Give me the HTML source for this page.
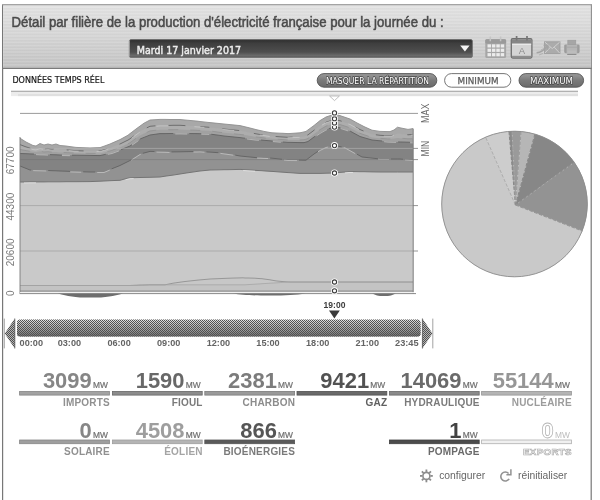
<!DOCTYPE html>
<html lang="fr">
<head>
<meta charset="utf-8">
<title>Détail par filière de la production d'électricité française</title>
<style>
html,body{margin:0;padding:0;background:#fff;}
body{width:600px;height:500px;overflow:hidden;position:relative;font-family:"Liberation Sans",Arial,sans-serif;}
svg{position:absolute;left:0;top:0;display:block;}
svg text{font-family:"Liberation Sans",Arial,sans-serif;}
.dj{font-family:"DejaVu Sans","Liberation Sans",sans-serif;}
.ol{paint-order:stroke;stroke:#474747;stroke-width:1.5px;stroke-linejoin:round;}
</style>
</head>
<body>
<svg width="600" height="500" viewBox="0 0 600 500">
<defs>
<linearGradient id="hg" x1="0" y1="0" x2="0" y2="1"><stop offset="0" stop-color="#e3e3e3"/><stop offset="0.45" stop-color="#d6d6d6"/><stop offset="1" stop-color="#c3c3c3"/></linearGradient>
<pattern id="stripes" width="4" height="3.2" patternUnits="userSpaceOnUse"><rect width="4" height="1.6" fill="#fff" fill-opacity="0.10"/><rect y="1.6" width="4" height="1.6" fill="#000" fill-opacity="0.015"/></pattern>
<linearGradient id="dd" x1="0" y1="0" x2="0" y2="1"><stop offset="0" stop-color="#2c2c2c"/><stop offset="0.2" stop-color="#3e3e3e"/><stop offset="0.7" stop-color="#4e4e4e"/><stop offset="0.9" stop-color="#6a6a6a"/><stop offset="1" stop-color="#5a5a5a"/></linearGradient>
<linearGradient id="bar" x1="0" y1="0" x2="0" y2="1"><stop offset="0" stop-color="#e6e6e6"/><stop offset="0.3" stop-color="#c4c4c4"/><stop offset="0.75" stop-color="#909090"/><stop offset="1" stop-color="#6c6c6c"/></linearGradient>
<pattern id="chk" width="2" height="2" patternUnits="userSpaceOnUse"><rect width="1" height="1" fill="#505050"/><rect x="1" y="1" width="1" height="1" fill="#505050"/></pattern>
<linearGradient id="pill" x1="0" y1="0" x2="0" y2="1"><stop offset="0" stop-color="#9a9a9a"/><stop offset="0.5" stop-color="#7a7a7a"/><stop offset="1" stop-color="#6a6a6a"/></linearGradient>
<linearGradient id="lb" x1="0" y1="0" x2="0" y2="1"><stop offset="0" stop-color="#d2d2d2"/><stop offset="1" stop-color="#f6f6f6"/></linearGradient>
</defs>

<!-- widget frame -->
<rect x="2.6" y="4.6" width="588.6" height="500" fill="#fff" stroke="#777" stroke-width="1.2"/>
<!-- header -->
<rect x="3.2" y="5.2" width="587.4" height="63" fill="url(#hg)"/>
<rect x="3.2" y="5.2" width="587.4" height="63" fill="url(#stripes)"/>
<line x1="2" y1="4.6" x2="591.8" y2="4.6" stroke="#a4a4a4" stroke-width="1.2"/>
<line x1="2" y1="68.4" x2="591.8" y2="68.4" stroke="#7a7a7a" stroke-width="1.2"/>
<g font-size="14" style="filter:drop-shadow(0.8px 0.9px 0 #fff)">
<text x="11.6" y="26.8" fill="#4a4a4a" stroke="#4a4a4a" stroke-width="0.6" textLength="432" lengthAdjust="spacingAndGlyphs">Détail par filière de la production d'électricité française pour la journée du :</text>
</g>
<!-- date selector -->
<rect x="129.4" y="39.6" width="343" height="17.8" rx="1.5" fill="url(#dd)" stroke="#6a6a6a" stroke-width="0.8"/>
<line x1="129.4" y1="40.5" x2="129.4" y2="56.6" stroke="#a0a0a0" stroke-width="0.9"/>
<text class="dj" x="136.7" y="53.5" font-size="10.4" fill="#ececec" stroke="#ececec" stroke-width="0.5" textLength="104.4" lengthAdjust="spacingAndGlyphs">Mardi 17 janvier 2017</text>
<path d="M460.2,45.4 L469.6,45.4 L464.9,51.6 Z" fill="#f4f4f4"/>
<!-- header icons -->
<g id="ico-cal1">
<rect x="485.3" y="39.2" width="20.8" height="18.8" rx="1.6" fill="#a6a6a6"/>
<rect x="485.3" y="39.2" width="20.8" height="4.2" rx="1.2" fill="#9a9a9a"/>
<g fill="#ececec"><rect x="487.5" y="44.3" width="3.5" height="3.2"/><rect x="491.9" y="44.3" width="3.5" height="3.2"/><rect x="496.3" y="44.3" width="3.5" height="3.2"/><rect x="500.7" y="44.3" width="3.5" height="3.2"/><rect x="487.5" y="48.7" width="3.5" height="3.2"/><rect x="491.9" y="48.7" width="3.5" height="3.2"/><rect x="496.3" y="48.7" width="3.5" height="3.2"/><rect x="500.7" y="48.7" width="3.5" height="3.2"/><rect x="487.5" y="53.1" width="3.5" height="3.2"/><rect x="491.9" y="53.1" width="3.5" height="3.2"/><rect x="496.3" y="53.1" width="3.5" height="3.2"/><rect x="500.7" y="53.1" width="3.5" height="3.2"/></g>
<path d="M490.3,36.4V41.2M500.6,36.4V41.2" stroke="#c4c4c4" stroke-width="1.5"/>
</g>
<g id="ico-cal2">
<rect x="511.3" y="38.6" width="20.6" height="19.4" rx="1.4" fill="#d4d4d4" stroke="#707070" stroke-width="1.3"/>
<rect x="511.9" y="39.2" width="19.4" height="4.4" fill="#868686"/>
<rect x="512" y="43.8" width="19.2" height="0.9" fill="#f2f2f2"/>
<rect x="511.9" y="55.8" width="19.4" height="1.8" fill="#8e8e8e"/>
<path d="M516.6,36V40.6M527,36V40.6" stroke="#767676" stroke-width="1.7"/>
<text x="521.8" y="53.6" text-anchor="middle" font-size="9.5" fill="#8c8c8c">A</text>
</g>
<g id="ico-mail" fill="none">
<rect x="544.6" y="41.8" width="15.4" height="11.6" fill="#ababab" stroke="#9c9c9c" stroke-width="0.8"/>
<path d="M545,42.2L552.3,48.6L559.6,42.2M545,53L550.4,47.2M559.6,53L554.2,47.2" stroke="#cfcfcf" stroke-width="1"/>
<path d="M536.6,52.8C540.4,52.6 543.6,50.8 547.4,46" stroke="#a4a4a4" stroke-width="1.5"/>
<path d="M543.6,45.4L547.8,45.4L547.6,49.8" stroke="#a4a4a4" stroke-width="1.3"/>
<path d="M539,55L543,53.4M541,50L544,48.4" stroke="#b2b2b2" stroke-width="1"/>
</g>
<g id="ico-print">
<rect x="564.2" y="44.4" width="15.4" height="8.8" rx="1.4" fill="#9c9c9c"/>
<rect x="566.6" y="45" width="10.6" height="8" fill="#b6b6b6"/>
<rect x="567.8" y="40.2" width="8" height="4.4" fill="#a6a6a6" stroke="#9a9a9a" stroke-width="0.6"/>
<rect x="567.4" y="50.6" width="8.8" height="3.6" fill="#bcbcbc"/>
<line x1="567.2" y1="54.4" x2="576.4" y2="54.4" stroke="#7e7e7e" stroke-width="0.9"/>
<line x1="566.8" y1="47.2" x2="577" y2="47.2" stroke="#a2a2a2" stroke-width="0.8"/>
</g>

<!-- toolbar -->
<text class="dj" x="12.4" y="83.2" font-size="8.6" fill="#161616" stroke="#161616" stroke-width="0.2" textLength="92" lengthAdjust="spacingAndGlyphs">DONNÉES TEMPS RÉEL</text>
<rect x="317.2" y="73.6" width="119.6" height="13.6" rx="6.8" fill="url(#pill)" stroke="#555" stroke-width="0.9"/>
<text class="dj ol" x="326" y="83.6" font-size="8.6" fill="#fff" textLength="103" lengthAdjust="spacingAndGlyphs">MASQUER LA RÉPARTITION</text>
<rect x="444.6" y="73.6" width="66.2" height="13.6" rx="6.8" fill="#fff" stroke="#666" stroke-width="0.9"/>
<text class="dj" x="457.6" y="83.6" font-size="8.6" fill="#5c5c5c" stroke="#5c5c5c" stroke-width="0.25" textLength="41" lengthAdjust="spacingAndGlyphs">MINIMUM</text>
<rect x="519" y="73.6" width="64.6" height="13.6" rx="6.8" fill="url(#pill)" stroke="#555" stroke-width="0.9"/>
<text class="dj ol" x="530" y="83.6" font-size="8.6" fill="#fff" textLength="43" lengthAdjust="spacingAndGlyphs">MAXIMUM</text>
<rect x="11" y="91.6" width="567" height="4.5" fill="#ececec"/>
<rect x="18" y="94" width="560" height="2.1" fill="#e0e0e0"/>
<line x1="11" y1="91.3" x2="578" y2="91.3" stroke="#9a9a9a" stroke-width="1.1"/>
<path d="M329.6,96 L339.4,96 L334.5,100.6 Z" fill="#fff" stroke="#b0b0b0" stroke-width="0.8"/>

<!-- chart -->
<g id="grid"><line x1="20" y1="113.4" x2="418" y2="113.4" stroke="#808080" stroke-width="0.8"/><line x1="20" y1="148.4" x2="418" y2="148.4" stroke="#7c7c7c" stroke-width="0.8"/><line x1="20" y1="159.6" x2="418" y2="159.6" stroke="#7a7a7a" stroke-width="0.8"/><line x1="20" y1="205.6" x2="418" y2="205.6" stroke="#7a7a7a" stroke-width="0.8"/><line x1="20" y1="251.0" x2="418" y2="251.0" stroke="#7a7a7a" stroke-width="0.8"/></g>
<g id="areas"><path d="M20.0,138.2 L26.0,142.0 L30.0,144.0 L33.0,145.5 L36.0,146.0 L40.0,143.5 L44.0,145.0 L48.0,144.0 L50.0,144.5 L52.0,145.0 L56.0,144.0 L60.0,145.5 L66.0,146.0 L70.0,146.6 L76.0,147.4 L90.0,148.0 L100.0,147.6 L104.0,146.2 L110.0,144.0 L112.0,143.1 L120.0,139.6 L126.0,136.3 L128.0,135.2 L130.0,133.6 L136.0,129.0 L140.0,126.1 L144.0,123.2 L150.0,120.0 L160.0,119.4 L165.0,119.4 L170.0,119.5 L173.0,119.5 L180.0,119.5 L185.0,120.0 L196.0,121.0 L197.0,121.1 L200.0,121.5 L208.0,122.4 L210.0,122.6 L220.0,123.6 L224.0,124.0 L227.0,124.3 L232.0,124.8 L240.0,125.6 L243.0,126.3 L245.0,126.8 L248.0,127.5 L255.0,129.3 L256.0,129.6 L260.0,130.5 L262.0,130.9 L264.0,131.4 L270.0,132.5 L272.0,132.8 L276.0,133.0 L280.0,133.2 L283.0,133.3 L288.0,133.6 L290.0,133.5 L300.0,132.8 L304.0,131.9 L306.0,131.4 L308.0,129.9 L314.0,125.5 L320.0,120.6 L326.0,117.0 L334.0,114.3 L340.0,115.6 L345.0,117.3 L350.0,119.0 L355.0,121.8 L356.0,122.4 L360.0,124.5 L362.0,125.5 L364.0,126.6 L372.0,130.2 L380.0,131.4 L388.0,131.6 L390.0,131.6 L394.0,130.0 L397.5,127.2 L400.0,127.8 L401.0,128.0 L408.0,129.4 L413.0,128.6 L413.0,292.2 L408.0,292.2 L401.0,292.2 L400.0,292.2 L397.5,292.2 L394.0,292.2 L390.0,292.2 L388.0,292.2 L380.0,292.2 L372.0,292.2 L364.0,292.2 L362.0,292.2 L360.0,292.2 L356.0,292.2 L355.0,292.2 L350.0,292.2 L345.0,292.2 L340.0,292.2 L334.0,292.2 L326.0,292.2 L320.0,292.2 L314.0,292.2 L308.0,292.2 L306.0,292.2 L304.0,292.2 L300.0,292.2 L290.0,292.2 L288.0,292.2 L283.0,292.2 L280.0,292.2 L276.0,292.2 L272.0,292.2 L270.0,292.2 L264.0,292.2 L262.0,292.2 L260.0,292.2 L256.0,292.2 L255.0,292.2 L248.0,292.2 L245.0,292.2 L243.0,292.2 L240.0,292.2 L232.0,292.2 L227.0,292.2 L224.0,292.2 L220.0,292.2 L210.0,292.2 L208.0,292.2 L200.0,292.2 L197.0,292.2 L196.0,292.2 L185.0,292.2 L180.0,292.2 L173.0,292.2 L170.0,292.2 L165.0,292.2 L160.0,292.2 L150.0,292.2 L144.0,292.2 L140.0,292.2 L136.0,292.2 L130.0,292.2 L128.0,292.2 L126.0,292.2 L120.0,292.2 L112.0,292.2 L110.0,292.2 L104.0,292.2 L100.0,292.2 L90.0,292.2 L76.0,292.2 L70.0,292.2 L66.0,292.2 L60.0,292.2 L56.0,292.2 L52.0,292.2 L50.0,292.2 L48.0,292.2 L44.0,292.2 L40.0,292.2 L36.0,292.2 L33.0,292.2 L30.0,292.2 L26.0,292.2 L20.0,292.2Z" fill="#a8a8a8" />
<path d="M20.0,144.6 L26.0,146.9 L30.0,148.1 L33.0,149.1 L36.0,149.4 L40.0,148.0 L44.0,148.9 L48.0,148.4 L50.0,148.8 L52.0,149.1 L56.0,148.6 L60.0,149.5 L66.0,149.8 L70.0,150.2 L76.0,150.7 L90.0,151.1 L100.0,151.0 L104.0,149.8 L110.0,148.0 L112.0,147.3 L120.0,144.0 L126.0,141.0 L128.0,140.1 L130.0,138.8 L136.0,134.4 L140.0,131.5 L144.0,129.2 L150.0,126.3 L160.0,125.4 L165.0,125.4 L170.0,125.4 L173.0,125.3 L180.0,125.3 L185.0,125.6 L196.0,126.3 L197.0,126.4 L200.0,126.6 L208.0,127.2 L210.0,127.4 L220.0,128.6 L224.0,129.0 L227.0,129.3 L232.0,129.8 L240.0,130.6 L243.0,131.2 L245.0,131.6 L248.0,132.2 L255.0,133.6 L256.0,133.8 L260.0,134.5 L262.0,134.8 L264.0,135.1 L270.0,136.0 L272.0,136.2 L276.0,136.5 L280.0,136.8 L283.0,137.0 L288.0,137.3 L290.0,137.2 L300.0,136.9 L304.0,136.4 L306.0,135.9 L308.0,134.8 L314.0,130.3 L320.0,125.8 L326.0,122.2 L334.0,119.7 L340.0,120.7 L345.0,122.4 L350.0,124.0 L355.0,126.8 L356.0,127.4 L360.0,129.5 L362.0,130.4 L364.0,131.2 L372.0,134.3 L380.0,135.3 L388.0,135.8 L390.0,135.8 L394.0,135.0 L397.5,133.4 L400.0,133.7 L401.0,133.9 L408.0,134.8 L413.0,134.4 L413.0,292.2 L408.0,292.2 L401.0,292.2 L400.0,292.2 L397.5,292.2 L394.0,292.2 L390.0,292.2 L388.0,292.2 L380.0,292.2 L372.0,292.2 L364.0,292.2 L362.0,292.2 L360.0,292.2 L356.0,292.2 L355.0,292.2 L350.0,292.2 L345.0,292.2 L340.0,292.2 L334.0,292.2 L326.0,292.2 L320.0,292.2 L314.0,292.2 L308.0,292.2 L306.0,292.2 L304.0,292.2 L300.0,292.2 L290.0,292.2 L288.0,292.2 L283.0,292.2 L280.0,292.2 L276.0,292.2 L272.0,292.2 L270.0,292.2 L264.0,292.2 L262.0,292.2 L260.0,292.2 L256.0,292.2 L255.0,292.2 L248.0,292.2 L245.0,292.2 L243.0,292.2 L240.0,292.2 L232.0,292.2 L227.0,292.2 L224.0,292.2 L220.0,292.2 L210.0,292.2 L208.0,292.2 L200.0,292.2 L197.0,292.2 L196.0,292.2 L185.0,292.2 L180.0,292.2 L173.0,292.2 L170.0,292.2 L165.0,292.2 L160.0,292.2 L150.0,292.2 L144.0,292.2 L140.0,292.2 L136.0,292.2 L130.0,292.2 L128.0,292.2 L126.0,292.2 L120.0,292.2 L112.0,292.2 L110.0,292.2 L104.0,292.2 L100.0,292.2 L90.0,292.2 L76.0,292.2 L70.0,292.2 L66.0,292.2 L60.0,292.2 L56.0,292.2 L52.0,292.2 L50.0,292.2 L48.0,292.2 L44.0,292.2 L40.0,292.2 L36.0,292.2 L33.0,292.2 L30.0,292.2 L26.0,292.2 L20.0,292.2Z" fill="#adadad" />
<path d="M20.0,149.4 L26.0,150.6 L30.0,151.2 L33.0,151.7 L36.0,151.9 L40.0,151.3 L44.0,151.9 L48.0,151.7 L50.0,151.9 L52.0,152.1 L56.0,151.9 L60.0,152.4 L66.0,152.6 L70.0,152.8 L76.0,153.1 L90.0,153.4 L100.0,153.4 L104.0,152.4 L110.0,150.9 L112.0,150.3 L120.0,147.2 L126.0,144.5 L128.0,143.7 L130.0,142.7 L136.0,138.3 L140.0,135.5 L144.0,133.6 L150.0,130.9 L160.0,129.8 L165.0,129.7 L170.0,129.7 L173.0,129.7 L180.0,129.6 L185.0,129.8 L196.0,130.2 L197.0,130.3 L200.0,130.4 L208.0,130.7 L210.0,131.0 L220.0,132.3 L224.0,132.8 L227.0,133.1 L232.0,133.6 L240.0,134.4 L243.0,134.8 L245.0,135.1 L248.0,135.6 L255.0,136.7 L256.0,136.9 L260.0,137.4 L262.0,137.6 L264.0,137.9 L270.0,138.6 L272.0,138.8 L276.0,139.1 L280.0,139.4 L283.0,139.6 L288.0,140.0 L290.0,140.0 L300.0,139.9 L304.0,139.7 L306.0,139.2 L308.0,138.4 L314.0,133.9 L320.0,129.7 L326.0,126.1 L334.0,123.6 L340.0,124.5 L345.0,126.1 L350.0,127.8 L355.0,130.5 L356.0,131.1 L360.0,133.3 L362.0,134.0 L364.0,134.7 L372.0,137.4 L380.0,138.3 L388.0,138.9 L390.0,138.9 L394.0,138.6 L397.5,137.9 L400.0,138.2 L401.0,138.2 L408.0,138.8 L413.0,138.7 L413.0,292.2 L408.0,292.2 L401.0,292.2 L400.0,292.2 L397.5,292.2 L394.0,292.2 L390.0,292.2 L388.0,292.2 L380.0,292.2 L372.0,292.2 L364.0,292.2 L362.0,292.2 L360.0,292.2 L356.0,292.2 L355.0,292.2 L350.0,292.2 L345.0,292.2 L340.0,292.2 L334.0,292.2 L326.0,292.2 L320.0,292.2 L314.0,292.2 L308.0,292.2 L306.0,292.2 L304.0,292.2 L300.0,292.2 L290.0,292.2 L288.0,292.2 L283.0,292.2 L280.0,292.2 L276.0,292.2 L272.0,292.2 L270.0,292.2 L264.0,292.2 L262.0,292.2 L260.0,292.2 L256.0,292.2 L255.0,292.2 L248.0,292.2 L245.0,292.2 L243.0,292.2 L240.0,292.2 L232.0,292.2 L227.0,292.2 L224.0,292.2 L220.0,292.2 L210.0,292.2 L208.0,292.2 L200.0,292.2 L197.0,292.2 L196.0,292.2 L185.0,292.2 L180.0,292.2 L173.0,292.2 L170.0,292.2 L165.0,292.2 L160.0,292.2 L150.0,292.2 L144.0,292.2 L140.0,292.2 L136.0,292.2 L130.0,292.2 L128.0,292.2 L126.0,292.2 L120.0,292.2 L112.0,292.2 L110.0,292.2 L104.0,292.2 L100.0,292.2 L90.0,292.2 L76.0,292.2 L70.0,292.2 L66.0,292.2 L60.0,292.2 L56.0,292.2 L52.0,292.2 L50.0,292.2 L48.0,292.2 L44.0,292.2 L40.0,292.2 L36.0,292.2 L33.0,292.2 L30.0,292.2 L26.0,292.2 L20.0,292.2Z" fill="#a1a1a1" />
<path d="M20.0,153.5 L26.0,153.7 L30.0,153.9 L33.0,154.0 L36.0,154.1 L40.0,154.2 L44.0,154.4 L48.0,154.6 L50.0,154.6 L52.0,154.7 L56.0,154.8 L60.0,155.0 L66.0,155.1 L70.0,155.2 L76.0,155.2 L90.0,155.4 L100.0,155.6 L104.0,154.7 L110.0,153.4 L112.0,153.0 L120.0,150.0 L126.0,147.6 L128.0,146.8 L130.0,146.0 L136.0,141.8 L140.0,139.0 L144.0,137.4 L150.0,135.0 L160.0,133.6 L165.0,133.6 L170.0,133.5 L173.0,133.5 L180.0,133.4 L185.0,133.5 L196.0,133.6 L197.0,133.6 L200.0,133.7 L208.0,133.8 L210.0,134.1 L220.0,135.4 L224.0,136.0 L227.0,136.3 L232.0,136.8 L240.0,137.6 L243.0,138.0 L245.0,138.2 L248.0,138.6 L255.0,139.5 L256.0,139.6 L260.0,139.9 L262.0,140.1 L264.0,140.3 L270.0,140.8 L272.0,141.0 L276.0,141.3 L280.0,141.7 L283.0,142.0 L288.0,142.4 L290.0,142.4 L300.0,142.6 L304.0,142.6 L306.0,142.1 L308.0,141.5 L314.0,137.0 L320.0,133.0 L326.0,129.5 L334.0,127.1 L340.0,127.8 L345.0,129.4 L350.0,131.0 L355.0,133.8 L356.0,134.3 L360.0,136.5 L362.0,137.1 L364.0,137.7 L372.0,140.0 L380.0,140.8 L388.0,141.6 L390.0,141.7 L394.0,141.8 L397.5,141.9 L400.0,142.0 L401.0,142.0 L408.0,142.2 L413.0,142.4 L413.0,292.2 L408.0,292.2 L401.0,292.2 L400.0,292.2 L397.5,292.2 L394.0,292.2 L390.0,292.2 L388.0,292.2 L380.0,292.2 L372.0,292.2 L364.0,292.2 L362.0,292.2 L360.0,292.2 L356.0,292.2 L355.0,292.2 L350.0,292.2 L345.0,292.2 L340.0,292.2 L334.0,292.2 L326.0,292.2 L320.0,292.2 L314.0,292.2 L308.0,292.2 L306.0,292.2 L304.0,292.2 L300.0,292.2 L290.0,292.2 L288.0,292.2 L283.0,292.2 L280.0,292.2 L276.0,292.2 L272.0,292.2 L270.0,292.2 L264.0,292.2 L262.0,292.2 L260.0,292.2 L256.0,292.2 L255.0,292.2 L248.0,292.2 L245.0,292.2 L243.0,292.2 L240.0,292.2 L232.0,292.2 L227.0,292.2 L224.0,292.2 L220.0,292.2 L210.0,292.2 L208.0,292.2 L200.0,292.2 L197.0,292.2 L196.0,292.2 L185.0,292.2 L180.0,292.2 L173.0,292.2 L170.0,292.2 L165.0,292.2 L160.0,292.2 L150.0,292.2 L144.0,292.2 L140.0,292.2 L136.0,292.2 L130.0,292.2 L128.0,292.2 L126.0,292.2 L120.0,292.2 L112.0,292.2 L110.0,292.2 L104.0,292.2 L100.0,292.2 L90.0,292.2 L76.0,292.2 L70.0,292.2 L66.0,292.2 L60.0,292.2 L56.0,292.2 L52.0,292.2 L50.0,292.2 L48.0,292.2 L44.0,292.2 L40.0,292.2 L36.0,292.2 L33.0,292.2 L30.0,292.2 L26.0,292.2 L20.0,292.2Z" fill="#838383" />
<path d="M20.0,166.0 L26.0,168.4 L30.0,170.0 L33.0,170.1 L36.0,170.2 L40.0,170.3 L44.0,170.4 L48.0,170.5 L50.0,170.6 L52.0,170.7 L56.0,170.8 L60.0,171.0 L66.0,171.2 L70.0,171.4 L76.0,171.6 L90.0,172.0 L100.0,172.0 L104.0,172.0 L110.0,169.5 L112.0,168.7 L120.0,165.5 L126.0,162.5 L128.0,161.5 L130.0,160.5 L136.0,156.6 L140.0,154.0 L144.0,153.0 L150.0,151.4 L160.0,151.7 L165.0,151.8 L170.0,152.0 L173.0,151.9 L180.0,151.8 L185.0,151.7 L196.0,151.5 L197.0,151.5 L200.0,151.4 L208.0,152.0 L210.0,152.1 L220.0,152.8 L224.0,153.4 L227.0,153.8 L232.0,154.5 L240.0,156.0 L243.0,156.3 L245.0,156.5 L248.0,156.8 L255.0,157.5 L256.0,157.6 L260.0,157.8 L262.0,157.8 L264.0,157.9 L270.0,158.1 L272.0,158.2 L276.0,158.6 L280.0,159.1 L283.0,159.4 L288.0,160.0 L290.0,160.0 L300.0,160.1 L304.0,160.2 L306.0,160.2 L308.0,158.6 L314.0,154.0 L320.0,150.0 L326.0,147.0 L334.0,145.6 L340.0,146.6 L345.0,147.4 L350.0,150.2 L355.0,153.0 L356.0,153.6 L360.0,155.9 L362.0,157.0 L364.0,157.2 L372.0,158.1 L380.0,159.0 L388.0,159.0 L390.0,159.0 L394.0,159.0 L397.5,159.0 L400.0,159.0 L401.0,159.1 L408.0,159.6 L413.0,160.0 L413.0,292.2 L408.0,292.2 L401.0,292.2 L400.0,292.2 L397.5,292.2 L394.0,292.2 L390.0,292.2 L388.0,292.2 L380.0,292.2 L372.0,292.2 L364.0,292.2 L362.0,292.2 L360.0,292.2 L356.0,292.2 L355.0,292.2 L350.0,292.2 L345.0,292.2 L340.0,292.2 L334.0,292.2 L326.0,292.2 L320.0,292.2 L314.0,292.2 L308.0,292.2 L306.0,292.2 L304.0,292.2 L300.0,292.2 L290.0,292.2 L288.0,292.2 L283.0,292.2 L280.0,292.2 L276.0,292.2 L272.0,292.2 L270.0,292.2 L264.0,292.2 L262.0,292.2 L260.0,292.2 L256.0,292.2 L255.0,292.2 L248.0,292.2 L245.0,292.2 L243.0,292.2 L240.0,292.2 L232.0,292.2 L227.0,292.2 L224.0,292.2 L220.0,292.2 L210.0,292.2 L208.0,292.2 L200.0,292.2 L197.0,292.2 L196.0,292.2 L185.0,292.2 L180.0,292.2 L173.0,292.2 L170.0,292.2 L165.0,292.2 L160.0,292.2 L150.0,292.2 L144.0,292.2 L140.0,292.2 L136.0,292.2 L130.0,292.2 L128.0,292.2 L126.0,292.2 L120.0,292.2 L112.0,292.2 L110.0,292.2 L104.0,292.2 L100.0,292.2 L90.0,292.2 L76.0,292.2 L70.0,292.2 L66.0,292.2 L60.0,292.2 L56.0,292.2 L52.0,292.2 L50.0,292.2 L48.0,292.2 L44.0,292.2 L40.0,292.2 L36.0,292.2 L33.0,292.2 L30.0,292.2 L26.0,292.2 L20.0,292.2Z" fill="#929292" />
<path d="M20.0,182.0 L26.0,182.0 L30.0,181.9 L33.0,181.9 L36.0,181.9 L40.0,181.9 L44.0,181.9 L48.0,181.8 L50.0,181.8 L52.0,181.8 L56.0,181.8 L60.0,181.8 L66.0,181.7 L70.0,181.7 L76.0,181.7 L90.0,181.6 L100.0,181.2 L104.0,181.0 L110.0,180.7 L112.0,180.6 L120.0,180.3 L126.0,178.6 L128.0,178.2 L130.0,177.8 L136.0,177.6 L140.0,177.5 L144.0,177.4 L150.0,177.3 L160.0,177.0 L165.0,176.2 L170.0,175.5 L173.0,175.1 L180.0,174.0 L185.0,173.2 L196.0,171.6 L197.0,171.4 L200.0,171.0 L208.0,170.2 L210.0,170.0 L220.0,169.8 L224.0,169.7 L227.0,169.7 L232.0,169.6 L240.0,169.4 L243.0,169.6 L245.0,169.7 L248.0,169.9 L255.0,170.3 L256.0,170.4 L260.0,170.6 L262.0,170.7 L264.0,170.9 L270.0,171.3 L272.0,171.4 L276.0,171.7 L280.0,172.0 L283.0,172.2 L288.0,172.6 L290.0,172.7 L300.0,173.4 L304.0,173.4 L306.0,173.4 L308.0,173.4 L314.0,173.4 L320.0,173.4 L326.0,173.2 L334.0,173.0 L340.0,172.4 L345.0,172.0 L350.0,171.5 L355.0,171.6 L356.0,171.6 L360.0,171.7 L362.0,171.7 L364.0,171.7 L372.0,171.9 L380.0,172.0 L388.0,172.0 L390.0,172.0 L394.0,172.0 L397.5,172.0 L400.0,172.0 L401.0,172.0 L408.0,172.0 L413.0,172.0 L413.0,292.2 L408.0,292.2 L401.0,292.2 L400.0,292.2 L397.5,292.2 L394.0,292.2 L390.0,292.2 L388.0,292.2 L380.0,292.2 L372.0,292.2 L364.0,292.2 L362.0,292.2 L360.0,292.2 L356.0,292.2 L355.0,292.2 L350.0,292.2 L345.0,292.2 L340.0,292.2 L334.0,292.2 L326.0,292.2 L320.0,292.2 L314.0,292.2 L308.0,292.2 L306.0,292.2 L304.0,292.2 L300.0,292.2 L290.0,292.2 L288.0,292.2 L283.0,292.2 L280.0,292.2 L276.0,292.2 L272.0,292.2 L270.0,292.2 L264.0,292.2 L262.0,292.2 L260.0,292.2 L256.0,292.2 L255.0,292.2 L248.0,292.2 L245.0,292.2 L243.0,292.2 L240.0,292.2 L232.0,292.2 L227.0,292.2 L224.0,292.2 L220.0,292.2 L210.0,292.2 L208.0,292.2 L200.0,292.2 L197.0,292.2 L196.0,292.2 L185.0,292.2 L180.0,292.2 L173.0,292.2 L170.0,292.2 L165.0,292.2 L160.0,292.2 L150.0,292.2 L144.0,292.2 L140.0,292.2 L136.0,292.2 L130.0,292.2 L128.0,292.2 L126.0,292.2 L120.0,292.2 L112.0,292.2 L110.0,292.2 L104.0,292.2 L100.0,292.2 L90.0,292.2 L76.0,292.2 L70.0,292.2 L66.0,292.2 L60.0,292.2 L56.0,292.2 L52.0,292.2 L50.0,292.2 L48.0,292.2 L44.0,292.2 L40.0,292.2 L36.0,292.2 L33.0,292.2 L30.0,292.2 L26.0,292.2 L20.0,292.2Z" fill="#c9c9c9" />
<path d="M20.0,285.5 L26.0,285.5 L30.0,285.5 L33.0,285.5 L36.0,285.5 L40.0,285.5 L44.0,285.5 L48.0,285.5 L50.0,285.5 L52.0,285.5 L56.0,285.5 L60.0,285.5 L66.0,285.5 L70.0,285.5 L76.0,285.5 L90.0,285.5 L100.0,285.5 L104.0,285.5 L110.0,285.5 L112.0,285.5 L120.0,285.5 L126.0,285.5 L128.0,285.5 L130.0,285.5 L136.0,285.3 L140.0,285.1 L144.0,285.0 L150.0,284.8 L160.0,284.8 L165.0,284.8 L170.0,283.8 L173.0,283.2 L180.0,282.2 L185.0,281.5 L196.0,280.3 L197.0,280.2 L200.0,279.9 L208.0,279.2 L210.0,279.0 L220.0,278.6 L224.0,278.4 L227.0,278.3 L232.0,278.1 L240.0,277.9 L243.0,277.8 L245.0,278.0 L248.0,278.0 L255.0,278.2 L256.0,278.3 L260.0,278.6 L262.0,278.7 L264.0,279.0 L270.0,279.8 L272.0,280.2 L276.0,280.9 L280.0,281.3 L283.0,281.6 L288.0,281.9 L290.0,282.0 L300.0,282.0 L304.0,282.0 L306.0,282.0 L308.0,282.0 L314.0,282.0 L320.0,282.0 L326.0,282.0 L334.0,282.0 L340.0,282.0 L345.0,282.0 L350.0,282.0 L355.0,282.0 L356.0,282.0 L360.0,282.0 L362.0,282.0 L364.0,282.0 L372.0,282.0 L380.0,282.0 L388.0,282.0 L390.0,282.0 L394.0,282.0 L397.5,282.0 L400.0,282.0 L401.0,282.0 L408.0,282.0 L413.0,282.0 L413.0,292.2 L408.0,292.2 L401.0,292.2 L400.0,292.2 L397.5,292.2 L394.0,292.2 L390.0,292.2 L388.0,292.2 L380.0,292.2 L372.0,292.2 L364.0,292.2 L362.0,292.2 L360.0,292.2 L356.0,292.2 L355.0,292.2 L350.0,292.2 L345.0,292.2 L340.0,292.2 L334.0,292.2 L326.0,292.2 L320.0,292.2 L314.0,292.2 L308.0,292.2 L306.0,292.2 L304.0,292.2 L300.0,292.2 L290.0,292.2 L288.0,292.2 L283.0,292.2 L280.0,292.2 L276.0,292.2 L272.0,292.2 L270.0,292.2 L264.0,292.2 L262.0,292.2 L260.0,292.2 L256.0,292.2 L255.0,292.2 L248.0,292.2 L245.0,292.2 L243.0,292.2 L240.0,292.2 L232.0,292.2 L227.0,292.2 L224.0,292.2 L220.0,292.2 L210.0,292.2 L208.0,292.2 L200.0,292.2 L197.0,292.2 L196.0,292.2 L185.0,292.2 L180.0,292.2 L173.0,292.2 L170.0,292.2 L165.0,292.2 L160.0,292.2 L150.0,292.2 L144.0,292.2 L140.0,292.2 L136.0,292.2 L130.0,292.2 L128.0,292.2 L126.0,292.2 L120.0,292.2 L112.0,292.2 L110.0,292.2 L104.0,292.2 L100.0,292.2 L90.0,292.2 L76.0,292.2 L70.0,292.2 L66.0,292.2 L60.0,292.2 L56.0,292.2 L52.0,292.2 L50.0,292.2 L48.0,292.2 L44.0,292.2 L40.0,292.2 L36.0,292.2 L33.0,292.2 L30.0,292.2 L26.0,292.2 L20.0,292.2Z" fill="#c7c7c7" />
<path d="M20.0,285.5 L26.0,285.5 L30.0,285.5 L33.0,285.5 L36.0,285.5 L40.0,285.5 L44.0,285.5 L48.0,285.5 L50.0,285.5 L52.0,285.5 L56.0,285.5 L60.0,285.5 L66.0,285.5 L70.0,285.5 L76.0,285.5 L90.0,285.5 L100.0,285.5 L104.0,285.5 L110.0,285.5 L112.0,285.5 L120.0,285.5 L126.0,285.5 L128.0,285.5 L130.0,285.5 L136.0,285.3 L140.0,285.1 L144.0,285.0 L150.0,284.8 L160.0,284.8 L165.0,284.8 L170.0,284.8 L173.0,284.8 L180.0,284.8 L185.0,284.8 L196.0,284.8 L197.0,284.8 L200.0,284.8 L208.0,284.8 L210.0,284.8 L220.0,284.8 L224.0,284.8 L227.0,284.8 L232.0,284.8 L240.0,284.8 L243.0,284.8 L245.0,284.8 L248.0,284.6 L255.0,284.2 L256.0,284.1 L260.0,283.9 L262.0,283.7 L264.0,283.6 L270.0,283.2 L272.0,283.1 L276.0,282.9 L280.0,282.6 L283.0,282.4 L288.0,282.1 L290.0,282.0 L300.0,282.0 L304.0,282.0 L306.0,282.0 L308.0,282.0 L314.0,282.0 L320.0,282.0 L326.0,282.0 L334.0,282.0 L340.0,282.0 L345.0,282.0 L350.0,282.0 L355.0,282.0 L356.0,282.0 L360.0,282.0 L362.0,282.0 L364.0,282.0 L372.0,282.0 L380.0,282.0 L388.0,282.0 L390.0,282.0 L394.0,282.0 L397.5,282.0 L400.0,282.0 L401.0,282.0 L408.0,282.0 L413.0,282.0 L413.0,292.2 L408.0,292.2 L401.0,292.2 L400.0,292.2 L397.5,292.2 L394.0,292.2 L390.0,292.2 L388.0,292.2 L380.0,292.2 L372.0,292.2 L364.0,292.2 L362.0,292.2 L360.0,292.2 L356.0,292.2 L355.0,292.2 L350.0,292.2 L345.0,292.2 L340.0,292.2 L334.0,292.2 L326.0,292.2 L320.0,292.2 L314.0,292.2 L308.0,292.2 L306.0,292.2 L304.0,292.2 L300.0,292.2 L290.0,292.2 L288.0,292.2 L283.0,292.2 L280.0,292.2 L276.0,292.2 L272.0,292.2 L270.0,292.2 L264.0,292.2 L262.0,292.2 L260.0,292.2 L256.0,292.2 L255.0,292.2 L248.0,292.2 L245.0,292.2 L243.0,292.2 L240.0,292.2 L232.0,292.2 L227.0,292.2 L224.0,292.2 L220.0,292.2 L210.0,292.2 L208.0,292.2 L200.0,292.2 L197.0,292.2 L196.0,292.2 L185.0,292.2 L180.0,292.2 L173.0,292.2 L170.0,292.2 L165.0,292.2 L160.0,292.2 L150.0,292.2 L144.0,292.2 L140.0,292.2 L136.0,292.2 L130.0,292.2 L128.0,292.2 L126.0,292.2 L120.0,292.2 L112.0,292.2 L110.0,292.2 L104.0,292.2 L100.0,292.2 L90.0,292.2 L76.0,292.2 L70.0,292.2 L66.0,292.2 L60.0,292.2 L56.0,292.2 L52.0,292.2 L50.0,292.2 L48.0,292.2 L44.0,292.2 L40.0,292.2 L36.0,292.2 L33.0,292.2 L30.0,292.2 L26.0,292.2 L20.0,292.2Z" fill="#c3c3c3" />
<path d="M20.0,290.8 L26.0,290.8 L30.0,290.8 L33.0,290.8 L36.0,290.8 L40.0,290.8 L44.0,290.8 L48.0,290.8 L50.0,290.8 L52.0,290.8 L56.0,290.8 L60.0,290.8 L66.0,290.8 L70.0,290.8 L76.0,290.8 L90.0,290.8 L100.0,290.8 L104.0,290.8 L110.0,290.8 L112.0,290.8 L120.0,290.8 L126.0,290.8 L128.0,290.8 L130.0,290.8 L136.0,290.8 L140.0,290.8 L144.0,290.8 L150.0,290.8 L160.0,290.8 L165.0,290.8 L170.0,290.8 L173.0,290.8 L180.0,290.8 L185.0,290.8 L196.0,290.8 L197.0,290.8 L200.0,290.8 L208.0,290.8 L210.0,290.8 L220.0,290.8 L224.0,290.8 L227.0,290.8 L232.0,290.8 L240.0,290.8 L243.0,290.8 L245.0,290.8 L248.0,290.8 L255.0,290.8 L256.0,290.8 L260.0,290.8 L262.0,290.8 L264.0,290.8 L270.0,290.8 L272.0,290.8 L276.0,290.8 L280.0,290.8 L283.0,290.8 L288.0,290.8 L290.0,290.8 L300.0,290.8 L304.0,290.8 L306.0,290.8 L308.0,290.8 L314.0,290.8 L320.0,290.8 L326.0,290.8 L334.0,290.8 L340.0,290.8 L345.0,290.8 L350.0,290.8 L355.0,290.8 L356.0,290.8 L360.0,290.8 L362.0,290.8 L364.0,290.8 L372.0,290.8 L380.0,290.8 L388.0,290.8 L390.0,290.8 L394.0,290.8 L397.5,290.8 L400.0,290.8 L401.0,290.8 L408.0,290.8 L413.0,290.8 L413.0,292.2 L408.0,292.2 L401.0,292.2 L400.0,292.2 L397.5,292.2 L394.0,292.2 L390.0,292.2 L388.0,292.2 L380.0,292.2 L372.0,292.2 L364.0,292.2 L362.0,292.2 L360.0,292.2 L356.0,292.2 L355.0,292.2 L350.0,292.2 L345.0,292.2 L340.0,292.2 L334.0,292.2 L326.0,292.2 L320.0,292.2 L314.0,292.2 L308.0,292.2 L306.0,292.2 L304.0,292.2 L300.0,292.2 L290.0,292.2 L288.0,292.2 L283.0,292.2 L280.0,292.2 L276.0,292.2 L272.0,292.2 L270.0,292.2 L264.0,292.2 L262.0,292.2 L260.0,292.2 L256.0,292.2 L255.0,292.2 L248.0,292.2 L245.0,292.2 L243.0,292.2 L240.0,292.2 L232.0,292.2 L227.0,292.2 L224.0,292.2 L220.0,292.2 L210.0,292.2 L208.0,292.2 L200.0,292.2 L197.0,292.2 L196.0,292.2 L185.0,292.2 L180.0,292.2 L173.0,292.2 L170.0,292.2 L165.0,292.2 L160.0,292.2 L150.0,292.2 L144.0,292.2 L140.0,292.2 L136.0,292.2 L130.0,292.2 L128.0,292.2 L126.0,292.2 L120.0,292.2 L112.0,292.2 L110.0,292.2 L104.0,292.2 L100.0,292.2 L90.0,292.2 L76.0,292.2 L70.0,292.2 L66.0,292.2 L60.0,292.2 L56.0,292.2 L52.0,292.2 L50.0,292.2 L48.0,292.2 L44.0,292.2 L40.0,292.2 L36.0,292.2 L33.0,292.2 L30.0,292.2 L26.0,292.2 L20.0,292.2Z" fill="#ababab" />
<path d="M20.0,138.2 L26.0,142.0 L30.0,144.0 L33.0,145.5 L36.0,146.0 L40.0,143.5 L44.0,145.0 L48.0,144.0 L50.0,144.5 L52.0,145.0 L56.0,144.0 L60.0,145.5 L66.0,146.0 L70.0,146.6 L76.0,147.4 L90.0,148.0 L100.0,147.6 L104.0,146.2 L110.0,144.0 L112.0,143.1 L120.0,139.6 L126.0,136.3 L128.0,135.2 L130.0,133.6 L136.0,129.0 L140.0,126.1 L144.0,123.2 L150.0,120.0 L160.0,119.4 L165.0,119.4 L170.0,119.5 L173.0,119.5 L180.0,119.5 L185.0,120.0 L196.0,121.0 L197.0,121.1 L200.0,121.5 L208.0,122.4 L210.0,122.6 L220.0,123.6 L224.0,124.0 L227.0,124.3 L232.0,124.8 L240.0,125.6 L243.0,126.3 L245.0,126.8 L248.0,127.5 L255.0,129.3 L256.0,129.6 L260.0,130.5 L262.0,130.9 L264.0,131.4 L270.0,132.5 L272.0,132.8 L276.0,133.0 L280.0,133.2 L283.0,133.3 L288.0,133.6 L290.0,133.5 L300.0,132.8 L304.0,131.9 L306.0,131.4 L308.0,129.9 L314.0,125.5 L320.0,120.6 L326.0,117.0 L334.0,114.3 L340.0,115.6 L345.0,117.3 L350.0,119.0 L355.0,121.8 L356.0,122.4 L360.0,124.5 L362.0,125.5 L364.0,126.6 L372.0,130.2 L380.0,131.4 L388.0,131.6 L390.0,131.6 L394.0,130.0 L397.5,127.2 L400.0,127.8 L401.0,128.0 L408.0,129.4 L413.0,128.6" fill="none" stroke="#8e8e8e" stroke-width="0.9" />
<path d="M20.0,144.6 L26.0,146.9 L30.0,148.1 L33.0,149.1 L36.0,149.4 L40.0,148.0 L44.0,148.9 L48.0,148.4 L50.0,148.8 L52.0,149.1 L56.0,148.6 L60.0,149.5 L66.0,149.8 L70.0,150.2 L76.0,150.7 L90.0,151.1 L100.0,151.0 L104.0,149.8 L110.0,148.0 L112.0,147.3 L120.0,144.0 L126.0,141.0 L128.0,140.1 L130.0,138.8 L136.0,134.4 L140.0,131.5 L144.0,129.2 L150.0,126.3 L160.0,125.4 L165.0,125.4 L170.0,125.4 L173.0,125.3 L180.0,125.3 L185.0,125.6 L196.0,126.3 L197.0,126.4 L200.0,126.6 L208.0,127.2 L210.0,127.4 L220.0,128.6 L224.0,129.0 L227.0,129.3 L232.0,129.8 L240.0,130.6 L243.0,131.2 L245.0,131.6 L248.0,132.2 L255.0,133.6 L256.0,133.8 L260.0,134.5 L262.0,134.8 L264.0,135.1 L270.0,136.0 L272.0,136.2 L276.0,136.5 L280.0,136.8 L283.0,137.0 L288.0,137.3 L290.0,137.2 L300.0,136.9 L304.0,136.4 L306.0,135.9 L308.0,134.8 L314.0,130.3 L320.0,125.8 L326.0,122.2 L334.0,119.7 L340.0,120.7 L345.0,122.4 L350.0,124.0 L355.0,126.8 L356.0,127.4 L360.0,129.5 L362.0,130.4 L364.0,131.2 L372.0,134.3 L380.0,135.3 L388.0,135.8 L390.0,135.8 L394.0,135.0 L397.5,133.4 L400.0,133.7 L401.0,133.9 L408.0,134.8 L413.0,134.4" fill="none" stroke="#666666" stroke-width="0.9" stroke-dasharray="17 15 9 13" stroke-dashoffset="6"/>
<path d="M20.0,145.1 L26.0,147.4 L30.0,148.6 L33.0,149.6 L36.0,149.9 L40.0,148.5 L44.0,149.4 L48.0,148.9 L50.0,149.3 L52.0,149.6 L56.0,149.1 L60.0,150.0 L66.0,150.3 L70.0,150.7 L76.0,151.2 L90.0,151.6 L100.0,151.5 L104.0,150.3 L110.0,148.5 L112.0,147.8 L120.0,144.5 L126.0,141.5 L128.0,140.6 L130.0,139.3 L136.0,134.9 L140.0,132.0 L144.0,129.7 L150.0,126.8 L160.0,125.9 L165.0,125.9 L170.0,125.9 L173.0,125.8 L180.0,125.8 L185.0,126.1 L196.0,126.8 L197.0,126.9 L200.0,127.1 L208.0,127.7 L210.0,127.9 L220.0,129.1 L224.0,129.5 L227.0,129.8 L232.0,130.3 L240.0,131.1 L243.0,131.7 L245.0,132.1 L248.0,132.7 L255.0,134.1 L256.0,134.3 L260.0,135.0 L262.0,135.3 L264.0,135.6 L270.0,136.5 L272.0,136.7 L276.0,137.0 L280.0,137.3 L283.0,137.5 L288.0,137.8 L290.0,137.7 L300.0,137.4 L304.0,136.9 L306.0,136.4 L308.0,135.3 L314.0,130.8 L320.0,126.3 L326.0,122.8 L334.0,120.2 L340.0,121.2 L345.0,122.9 L350.0,124.5 L355.0,127.3 L356.0,127.9 L360.0,130.0 L362.0,130.9 L364.0,131.7 L372.0,134.8 L380.0,135.8 L388.0,136.3 L390.0,136.3 L394.0,135.5 L397.5,133.9 L400.0,134.2 L401.0,134.4 L408.0,135.3 L413.0,134.9" fill="none" stroke="#cecece" stroke-width="0.7" stroke-dasharray="0 18 12 26 10 0" stroke-dashoffset="6"/>
<path d="M20.0,149.4 L26.0,150.6 L30.0,151.2 L33.0,151.7 L36.0,151.9 L40.0,151.3 L44.0,151.9 L48.0,151.7 L50.0,151.9 L52.0,152.1 L56.0,151.9 L60.0,152.4 L66.0,152.6 L70.0,152.8 L76.0,153.1 L90.0,153.4 L100.0,153.4 L104.0,152.4 L110.0,150.9 L112.0,150.3 L120.0,147.2 L126.0,144.5 L128.0,143.7 L130.0,142.7 L136.0,138.3 L140.0,135.5 L144.0,133.6 L150.0,130.9 L160.0,129.8 L165.0,129.7 L170.0,129.7 L173.0,129.7 L180.0,129.6 L185.0,129.8 L196.0,130.2 L197.0,130.3 L200.0,130.4 L208.0,130.7 L210.0,131.0 L220.0,132.3 L224.0,132.8 L227.0,133.1 L232.0,133.6 L240.0,134.4 L243.0,134.8 L245.0,135.1 L248.0,135.6 L255.0,136.7 L256.0,136.9 L260.0,137.4 L262.0,137.6 L264.0,137.9 L270.0,138.6 L272.0,138.8 L276.0,139.1 L280.0,139.4 L283.0,139.6 L288.0,140.0 L290.0,140.0 L300.0,139.9 L304.0,139.7 L306.0,139.2 L308.0,138.4 L314.0,133.9 L320.0,129.7 L326.0,126.1 L334.0,123.6 L340.0,124.5 L345.0,126.1 L350.0,127.8 L355.0,130.5 L356.0,131.1 L360.0,133.3 L362.0,134.0 L364.0,134.7 L372.0,137.4 L380.0,138.3 L388.0,138.9 L390.0,138.9 L394.0,138.6 L397.5,137.9 L400.0,138.2 L401.0,138.2 L408.0,138.8 L413.0,138.7" fill="none" stroke="#8a8a8a" stroke-width="0.6" stroke-dasharray="10 12"/>
<path d="M20.0,153.5 L26.0,153.7 L30.0,153.9 L33.0,154.0 L36.0,154.1 L40.0,154.2 L44.0,154.4 L48.0,154.6 L50.0,154.6 L52.0,154.7 L56.0,154.8 L60.0,155.0 L66.0,155.1 L70.0,155.2 L76.0,155.2 L90.0,155.4 L100.0,155.6 L104.0,154.7 L110.0,153.4 L112.0,153.0 L120.0,150.0 L126.0,147.6 L128.0,146.8 L130.0,146.0 L136.0,141.8 L140.0,139.0 L144.0,137.4 L150.0,135.0 L160.0,133.6 L165.0,133.6 L170.0,133.5 L173.0,133.5 L180.0,133.4 L185.0,133.5 L196.0,133.6 L197.0,133.6 L200.0,133.7 L208.0,133.8 L210.0,134.1 L220.0,135.4 L224.0,136.0 L227.0,136.3 L232.0,136.8 L240.0,137.6 L243.0,138.0 L245.0,138.2 L248.0,138.6 L255.0,139.5 L256.0,139.6 L260.0,139.9 L262.0,140.1 L264.0,140.3 L270.0,140.8 L272.0,141.0 L276.0,141.3 L280.0,141.7 L283.0,142.0 L288.0,142.4 L290.0,142.4 L300.0,142.6 L304.0,142.6 L306.0,142.1 L308.0,141.5 L314.0,137.0 L320.0,133.0 L326.0,129.5 L334.0,127.1 L340.0,127.8 L345.0,129.4 L350.0,131.0 L355.0,133.8 L356.0,134.3 L360.0,136.5 L362.0,137.1 L364.0,137.7 L372.0,140.0 L380.0,140.8 L388.0,141.6 L390.0,141.7 L394.0,141.8 L397.5,141.9 L400.0,142.0 L401.0,142.0 L408.0,142.2 L413.0,142.4" fill="none" stroke="#626262" stroke-width="0.9" stroke-dasharray="34 16 12 10" stroke-dashoffset="20"/>
<path d="M20.0,154.0 L26.0,154.2 L30.0,154.4 L33.0,154.5 L36.0,154.6 L40.0,154.8 L44.0,154.9 L48.0,155.1 L50.0,155.1 L52.0,155.2 L56.0,155.3 L60.0,155.5 L66.0,155.6 L70.0,155.7 L76.0,155.7 L90.0,155.9 L100.0,156.1 L104.0,155.2 L110.0,153.9 L112.0,153.5 L120.0,150.5 L126.0,148.1 L128.0,147.3 L130.0,146.5 L136.0,142.3 L140.0,139.5 L144.0,137.9 L150.0,135.5 L160.0,134.1 L165.0,134.1 L170.0,134.0 L173.0,134.0 L180.0,133.9 L185.0,134.0 L196.0,134.1 L197.0,134.1 L200.0,134.2 L208.0,134.3 L210.0,134.6 L220.0,135.9 L224.0,136.5 L227.0,136.8 L232.0,137.3 L240.0,138.1 L243.0,138.5 L245.0,138.7 L248.0,139.1 L255.0,140.0 L256.0,140.1 L260.0,140.4 L262.0,140.6 L264.0,140.8 L270.0,141.3 L272.0,141.5 L276.0,141.8 L280.0,142.2 L283.0,142.5 L288.0,142.9 L290.0,142.9 L300.0,143.1 L304.0,143.1 L306.0,142.6 L308.0,142.0 L314.0,137.5 L320.0,133.5 L326.0,130.0 L334.0,127.6 L340.0,128.3 L345.0,129.9 L350.0,131.5 L355.0,134.2 L356.0,134.8 L360.0,137.0 L362.0,137.6 L364.0,138.2 L372.0,140.5 L380.0,141.3 L388.0,142.1 L390.0,142.2 L394.0,142.3 L397.5,142.4 L400.0,142.5 L401.0,142.5 L408.0,142.7 L413.0,142.9" fill="none" stroke="#cccccc" stroke-width="0.7" stroke-dasharray="0 36 12 14 8 2" stroke-dashoffset="20"/>
<path d="M20.0,166.0 L26.0,168.4 L30.0,170.0 L33.0,170.1 L36.0,170.2 L40.0,170.3 L44.0,170.4 L48.0,170.5 L50.0,170.6 L52.0,170.7 L56.0,170.8 L60.0,171.0 L66.0,171.2 L70.0,171.4 L76.0,171.6 L90.0,172.0 L100.0,172.0 L104.0,172.0 L110.0,169.5 L112.0,168.7 L120.0,165.5 L126.0,162.5 L128.0,161.5 L130.0,160.5 L136.0,156.6 L140.0,154.0 L144.0,153.0 L150.0,151.4 L160.0,151.7 L165.0,151.8 L170.0,152.0 L173.0,151.9 L180.0,151.8 L185.0,151.7 L196.0,151.5 L197.0,151.5 L200.0,151.4 L208.0,152.0 L210.0,152.1 L220.0,152.8 L224.0,153.4 L227.0,153.8 L232.0,154.5 L240.0,156.0 L243.0,156.3 L245.0,156.5 L248.0,156.8 L255.0,157.5 L256.0,157.6 L260.0,157.8 L262.0,157.8 L264.0,157.9 L270.0,158.1 L272.0,158.2 L276.0,158.6 L280.0,159.1 L283.0,159.4 L288.0,160.0 L290.0,160.0 L300.0,160.1 L304.0,160.2 L306.0,160.2 L308.0,158.6 L314.0,154.0 L320.0,150.0 L326.0,147.0 L334.0,145.6 L340.0,146.6 L345.0,147.4 L350.0,150.2 L355.0,153.0 L356.0,153.6 L360.0,155.9 L362.0,157.0 L364.0,157.2 L372.0,158.1 L380.0,159.0 L388.0,159.0 L390.0,159.0 L394.0,159.0 L397.5,159.0 L400.0,159.0 L401.0,159.1 L408.0,159.6 L413.0,160.0" fill="none" stroke="#626262" stroke-width="0.9" stroke-dasharray="12 17 22 13"/>
<path d="M20.0,166.5 L26.0,168.9 L30.0,170.5 L33.0,170.6 L36.0,170.7 L40.0,170.8 L44.0,170.9 L48.0,171.0 L50.0,171.1 L52.0,171.2 L56.0,171.3 L60.0,171.5 L66.0,171.7 L70.0,171.9 L76.0,172.1 L90.0,172.5 L100.0,172.5 L104.0,172.5 L110.0,170.0 L112.0,169.2 L120.0,166.0 L126.0,163.0 L128.0,162.0 L130.0,161.0 L136.0,157.1 L140.0,154.5 L144.0,153.5 L150.0,151.9 L160.0,152.2 L165.0,152.3 L170.0,152.5 L173.0,152.4 L180.0,152.3 L185.0,152.2 L196.0,152.0 L197.0,152.0 L200.0,151.9 L208.0,152.5 L210.0,152.6 L220.0,153.3 L224.0,153.9 L227.0,154.3 L232.0,155.0 L240.0,156.5 L243.0,156.8 L245.0,157.0 L248.0,157.3 L255.0,158.0 L256.0,158.1 L260.0,158.2 L262.0,158.3 L264.0,158.4 L270.0,158.6 L272.0,158.7 L276.0,159.1 L280.0,159.6 L283.0,159.9 L288.0,160.5 L290.0,160.5 L300.0,160.6 L304.0,160.7 L306.0,160.7 L308.0,159.1 L314.0,154.5 L320.0,150.5 L326.0,147.5 L334.0,146.1 L340.0,147.1 L345.0,147.9 L350.0,150.7 L355.0,153.5 L356.0,154.1 L360.0,156.4 L362.0,157.5 L364.0,157.7 L372.0,158.6 L380.0,159.5 L388.0,159.5 L390.0,159.5 L394.0,159.5 L397.5,159.5 L400.0,159.5 L401.0,159.6 L408.0,160.1 L413.0,160.5" fill="none" stroke="#cacaca" stroke-width="0.7" stroke-dasharray="0 14 13 24 11 2"/>
<path d="M20.0,182.0 L26.0,182.0 L30.0,181.9 L33.0,181.9 L36.0,181.9 L40.0,181.9 L44.0,181.9 L48.0,181.8 L50.0,181.8 L52.0,181.8 L56.0,181.8 L60.0,181.8 L66.0,181.7 L70.0,181.7 L76.0,181.7 L90.0,181.6 L100.0,181.2 L104.0,181.0 L110.0,180.7 L112.0,180.6 L120.0,180.3 L126.0,178.6 L128.0,178.2 L130.0,177.8 L136.0,177.6 L140.0,177.5 L144.0,177.4 L150.0,177.3 L160.0,177.0 L165.0,176.2 L170.0,175.5 L173.0,175.1 L180.0,174.0 L185.0,173.2 L196.0,171.6 L197.0,171.4 L200.0,171.0 L208.0,170.2 L210.0,170.0 L220.0,169.8 L224.0,169.7 L227.0,169.7 L232.0,169.6 L240.0,169.4 L243.0,169.6 L245.0,169.7 L248.0,169.9 L255.0,170.3 L256.0,170.4 L260.0,170.6 L262.0,170.7 L264.0,170.9 L270.0,171.3 L272.0,171.4 L276.0,171.7 L280.0,172.0 L283.0,172.2 L288.0,172.6 L290.0,172.7 L300.0,173.4 L304.0,173.4 L306.0,173.4 L308.0,173.4 L314.0,173.4 L320.0,173.4 L326.0,173.2 L334.0,173.0 L340.0,172.4 L345.0,172.0 L350.0,171.5 L355.0,171.6 L356.0,171.6 L360.0,171.7 L362.0,171.7 L364.0,171.7 L372.0,171.9 L380.0,172.0 L388.0,172.0 L390.0,172.0 L394.0,172.0 L397.5,172.0 L400.0,172.0 L401.0,172.0 L408.0,172.0 L413.0,172.0" fill="none" stroke="#747474" stroke-width="1.0" />
<path d="M20.0,182.9 L26.0,182.9 L30.0,182.8 L33.0,182.8 L36.0,182.8 L40.0,182.8 L44.0,182.8 L48.0,182.7 L50.0,182.7 L52.0,182.7 L56.0,182.7 L60.0,182.7 L66.0,182.6 L70.0,182.6 L76.0,182.6 L90.0,182.5 L100.0,182.1 L104.0,181.9 L110.0,181.6 L112.0,181.5 L120.0,181.2 L126.0,179.5 L128.0,179.1 L130.0,178.7 L136.0,178.5 L140.0,178.4 L144.0,178.3 L150.0,178.2 L160.0,177.9 L165.0,177.2 L170.0,176.4 L173.0,176.0 L180.0,174.9 L185.0,174.2 L196.0,172.5 L197.0,172.3 L200.0,171.9 L208.0,171.1 L210.0,170.9 L220.0,170.7 L224.0,170.6 L227.0,170.6 L232.0,170.5 L240.0,170.3 L243.0,170.5 L245.0,170.6 L248.0,170.8 L255.0,171.2 L256.0,171.3 L260.0,171.5 L262.0,171.6 L264.0,171.8 L270.0,172.2 L272.0,172.3 L276.0,172.6 L280.0,172.9 L283.0,173.1 L288.0,173.5 L290.0,173.6 L300.0,174.3 L304.0,174.3 L306.0,174.3 L308.0,174.3 L314.0,174.3 L320.0,174.3 L326.0,174.1 L334.0,173.9 L340.0,173.3 L345.0,172.9 L350.0,172.4 L355.0,172.5 L356.0,172.5 L360.0,172.6 L362.0,172.6 L364.0,172.6 L372.0,172.8 L380.0,172.9 L388.0,172.9 L390.0,172.9 L394.0,172.9 L397.5,172.9 L400.0,172.9 L401.0,172.9 L408.0,172.9 L413.0,172.9" fill="none" stroke="#ececec" stroke-width="0.7" stroke-dasharray="12 90 8 110" stroke-dashoffset="-4"/>
<path d="M20.0,285.5 L26.0,285.5 L30.0,285.5 L33.0,285.5 L36.0,285.5 L40.0,285.5 L44.0,285.5 L48.0,285.5 L50.0,285.5 L52.0,285.5 L56.0,285.5 L60.0,285.5 L66.0,285.5 L70.0,285.5 L76.0,285.5 L90.0,285.5 L100.0,285.5 L104.0,285.5 L110.0,285.5 L112.0,285.5 L120.0,285.5 L126.0,285.5 L128.0,285.5 L130.0,285.5 L136.0,285.3 L140.0,285.1 L144.0,285.0 L150.0,284.8 L160.0,284.8 L165.0,284.8 L170.0,283.8 L173.0,283.2 L180.0,282.2 L185.0,281.5 L196.0,280.3 L197.0,280.2 L200.0,279.9 L208.0,279.2 L210.0,279.0 L220.0,278.6 L224.0,278.4 L227.0,278.3 L232.0,278.1 L240.0,277.9 L243.0,277.8 L245.0,278.0 L248.0,278.0 L255.0,278.2 L256.0,278.3 L260.0,278.6 L262.0,278.7 L264.0,279.0 L270.0,279.8 L272.0,280.2 L276.0,280.9 L280.0,281.3 L283.0,281.6 L288.0,281.9 L290.0,282.0 L300.0,282.0 L304.0,282.0 L306.0,282.0 L308.0,282.0 L314.0,282.0 L320.0,282.0 L326.0,282.0 L334.0,282.0 L340.0,282.0 L345.0,282.0 L350.0,282.0 L355.0,282.0 L356.0,282.0 L360.0,282.0 L362.0,282.0 L364.0,282.0 L372.0,282.0 L380.0,282.0 L388.0,282.0 L390.0,282.0 L394.0,282.0 L397.5,282.0 L400.0,282.0 L401.0,282.0 L408.0,282.0 L413.0,282.0" fill="none" stroke="#8a8a8a" stroke-width="0.8" />
<path d="M20.0,285.5 L26.0,285.5 L30.0,285.5 L33.0,285.5 L36.0,285.5 L40.0,285.5 L44.0,285.5 L48.0,285.5 L50.0,285.5 L52.0,285.5 L56.0,285.5 L60.0,285.5 L66.0,285.5 L70.0,285.5 L76.0,285.5 L90.0,285.5 L100.0,285.5 L104.0,285.5 L110.0,285.5 L112.0,285.5 L120.0,285.5 L126.0,285.5 L128.0,285.5 L130.0,285.5 L136.0,285.3 L140.0,285.1 L144.0,285.0 L150.0,284.8 L160.0,284.8 L165.0,284.8 L170.0,284.8 L173.0,284.8 L180.0,284.8 L185.0,284.8 L196.0,284.8 L197.0,284.8 L200.0,284.8 L208.0,284.8 L210.0,284.8 L220.0,284.8 L224.0,284.8 L227.0,284.8 L232.0,284.8 L240.0,284.8 L243.0,284.8 L245.0,284.8 L248.0,284.6 L255.0,284.2 L256.0,284.1 L260.0,283.9 L262.0,283.7 L264.0,283.6 L270.0,283.2 L272.0,283.1 L276.0,282.9 L280.0,282.6 L283.0,282.4 L288.0,282.1 L290.0,282.0 L300.0,282.0 L304.0,282.0 L306.0,282.0 L308.0,282.0 L314.0,282.0 L320.0,282.0 L326.0,282.0 L334.0,282.0 L340.0,282.0 L345.0,282.0 L350.0,282.0 L355.0,282.0 L356.0,282.0 L360.0,282.0 L362.0,282.0 L364.0,282.0 L372.0,282.0 L380.0,282.0 L388.0,282.0 L390.0,282.0 L394.0,282.0 L397.5,282.0 L400.0,282.0 L401.0,282.0 L408.0,282.0 L413.0,282.0" fill="none" stroke="#a6a6a6" stroke-width="0.8" />
<path d="M20.0,290.8 L26.0,290.8 L30.0,290.8 L33.0,290.8 L36.0,290.8 L40.0,290.8 L44.0,290.8 L48.0,290.8 L50.0,290.8 L52.0,290.8 L56.0,290.8 L60.0,290.8 L66.0,290.8 L70.0,290.8 L76.0,290.8 L90.0,290.8 L100.0,290.8 L104.0,290.8 L110.0,290.8 L112.0,290.8 L120.0,290.8 L126.0,290.8 L128.0,290.8 L130.0,290.8 L136.0,290.8 L140.0,290.8 L144.0,290.8 L150.0,290.8 L160.0,290.8 L165.0,290.8 L170.0,290.8 L173.0,290.8 L180.0,290.8 L185.0,290.8 L196.0,290.8 L197.0,290.8 L200.0,290.8 L208.0,290.8 L210.0,290.8 L220.0,290.8 L224.0,290.8 L227.0,290.8 L232.0,290.8 L240.0,290.8 L243.0,290.8 L245.0,290.8 L248.0,290.8 L255.0,290.8 L256.0,290.8 L260.0,290.8 L262.0,290.8 L264.0,290.8 L270.0,290.8 L272.0,290.8 L276.0,290.8 L280.0,290.8 L283.0,290.8 L288.0,290.8 L290.0,290.8 L300.0,290.8 L304.0,290.8 L306.0,290.8 L308.0,290.8 L314.0,290.8 L320.0,290.8 L326.0,290.8 L334.0,290.8 L340.0,290.8 L345.0,290.8 L350.0,290.8 L355.0,290.8 L356.0,290.8 L360.0,290.8 L362.0,290.8 L364.0,290.8 L372.0,290.8 L380.0,290.8 L388.0,290.8 L390.0,290.8 L394.0,290.8 L397.5,290.8 L400.0,290.8 L401.0,290.8 L408.0,290.8 L413.0,290.8" fill="none" stroke="#999" stroke-width="0.8" /></g>
<g id="blobs"><path d="M58.0,293.4 C67.8,295.9 74.2,297.6 90.5,297.6 C106.8,297.6 113.2,295.9 123.0,293.4 Z" fill="#6e6e6e"/><path d="M232.0,293.4 C243.1,294.7 250.5,295.6 269.0,295.6 C287.5,295.6 294.9,294.7 306.0,293.4 Z" fill="#6e6e6e"/><path d="M372.0,293.4 C375.6,295.0 378.0,296.0 384.0,296.0 C390.0,296.0 392.4,295.0 396.0,293.4 Z" fill="#6e6e6e"/></g>
<g id="gridover"><line x1="20" y1="148.4" x2="413" y2="148.4" stroke="#b4b4b4" stroke-opacity="0.8" stroke-width="0.8"/><line x1="20" y1="159.6" x2="413" y2="159.6" stroke="#6e6e6e" stroke-opacity="0.5" stroke-width="0.8"/><line x1="20" y1="205.6" x2="413" y2="205.6" stroke="#6e6e6e" stroke-opacity="0.4" stroke-width="0.8"/><line x1="20" y1="251.0" x2="413" y2="251.0" stroke="#6e6e6e" stroke-opacity="0.4" stroke-width="0.8"/></g>
<line x1="20" y1="137" x2="20" y2="293.4" stroke="#7a7a7a" stroke-width="0.9"/>
<line x1="413.2" y1="128.6" x2="413.2" y2="293.4" stroke="#7a7a7a" stroke-width="1"/>
<line x1="20" y1="292.6" x2="418" y2="292.6" stroke="#fff" stroke-width="0.9"/><line x1="19.6" y1="293.6" x2="416" y2="293.6" stroke="#7c7c7c" stroke-width="0.9"/>
<g id="markers"><circle cx="334.5" cy="290.8" r="3.5" fill="#fff"/><circle cx="334.5" cy="290.8" r="2.1" fill="#fff" stroke="#3c3c3c" stroke-width="1.1"/><circle cx="334.5" cy="282.0" r="3.5" fill="#fff"/><circle cx="334.5" cy="282.0" r="2.1" fill="#fff" stroke="#3c3c3c" stroke-width="1.1"/><circle cx="334.5" cy="173.0" r="3.5" fill="#fff"/><circle cx="334.5" cy="173.0" r="2.1" fill="#fff" stroke="#3c3c3c" stroke-width="1.1"/><circle cx="334.5" cy="145.6" r="3.5" fill="#fff"/><circle cx="334.5" cy="145.6" r="2.1" fill="#fff" stroke="#3c3c3c" stroke-width="1.1"/><circle cx="334.5" cy="127.1" r="3.5" fill="#fff"/><circle cx="334.5" cy="127.1" r="2.1" fill="#fff" stroke="#3c3c3c" stroke-width="1.1"/><circle cx="334.5" cy="122.9" r="3.5" fill="#fff"/><circle cx="334.5" cy="122.9" r="2.1" fill="#fff" stroke="#3c3c3c" stroke-width="1.1"/><circle cx="334.5" cy="118.7" r="3.5" fill="#fff"/><circle cx="334.5" cy="118.7" r="2.1" fill="#fff" stroke="#3c3c3c" stroke-width="1.1"/><circle cx="334.5" cy="112.9" r="3.5" fill="#fff"/><circle cx="334.5" cy="112.9" r="2.1" fill="#fff" stroke="#3c3c3c" stroke-width="1.1"/></g>
<g font-size="10" fill="#7a7a7a" text-anchor="middle">
<text transform="translate(14.2,160.4) rotate(-90)">67700</text>
<text transform="translate(14.2,206.6) rotate(-90)">44300</text>
<text transform="translate(14.2,252.4) rotate(-90)">20600</text>
<text transform="translate(14.2,293.2) rotate(-90)">0</text>
<text transform="translate(429,113.2) rotate(-90)" fill="#6a6a6a" textLength="19.4" lengthAdjust="spacingAndGlyphs">MAX</text>
<text transform="translate(429,148.6) rotate(-90)" fill="#6a6a6a" textLength="15.6" lengthAdjust="spacingAndGlyphs">MIN</text>
</g>

<!-- pie -->
<g id="pie"><circle cx="514.5" cy="204.0" r="73.0" fill="#c9c9c9"/><path d="M515.40,205.00 L485.51,137.00 A73.0,73.0 0 0 1 508.90,131.22 Z" fill="#cdcdcd"/><path d="M515.40,205.00 L508.90,131.22 A73.0,73.0 0 0 1 512.08,131.04 Z" fill="#8a8a8a"/><path d="M515.40,205.00 L512.08,131.04 A73.0,73.0 0 0 1 521.12,131.30 Z" fill="#9a9a9a"/><path d="M515.40,205.00 L521.12,131.30 A73.0,73.0 0 0 1 534.87,133.90 Z" fill="#b6b6b6"/><path d="M515.40,205.00 L534.87,133.90 A73.0,73.0 0 0 1 574.30,162.13 Z" fill="#878787"/><path d="M515.40,205.00 L574.30,162.13 A73.0,73.0 0 0 1 582.28,231.11 Z" fill="#939393"/><line x1="515.40" y1="205.00" x2="485.51" y2="137.00" stroke="#dedede" stroke-opacity="0.55" stroke-width="0.7"/><line x1="515.40" y1="205.00" x2="485.51" y2="137.00" stroke="#9c9c9c" stroke-width="0.7" stroke-dasharray="3.6 1.4"/><line x1="515.40" y1="205.00" x2="508.90" y2="131.22" stroke="#dedede" stroke-opacity="0.55" stroke-width="0.7"/><line x1="515.40" y1="205.00" x2="508.90" y2="131.22" stroke="#6e6e6e" stroke-width="0.7" stroke-dasharray="3.6 1.4"/><line x1="515.40" y1="205.00" x2="512.08" y2="131.04" stroke="#dedede" stroke-opacity="0.55" stroke-width="0.7"/><line x1="515.40" y1="205.00" x2="512.08" y2="131.04" stroke="#8a8a8a" stroke-width="0.7" stroke-dasharray="3.6 1.4"/><line x1="515.40" y1="205.00" x2="521.12" y2="131.30" stroke="#dedede" stroke-opacity="0.55" stroke-width="0.7"/><line x1="515.40" y1="205.00" x2="521.12" y2="131.30" stroke="#8a8a8a" stroke-width="0.7" stroke-dasharray="3.6 1.4"/><line x1="515.40" y1="205.00" x2="534.87" y2="133.90" stroke="#dedede" stroke-opacity="0.55" stroke-width="0.7"/><line x1="515.40" y1="205.00" x2="534.87" y2="133.90" stroke="#707070" stroke-width="0.7" stroke-dasharray="3.6 1.4"/><line x1="515.40" y1="205.00" x2="574.30" y2="162.13" stroke="#dedede" stroke-opacity="0.55" stroke-width="0.7"/><line x1="515.40" y1="205.00" x2="574.30" y2="162.13" stroke="#787878" stroke-width="0.7" stroke-dasharray="3.6 1.4"/><line x1="515.40" y1="205.00" x2="582.28" y2="231.11" stroke="#dedede" stroke-opacity="0.55" stroke-width="0.7"/><line x1="515.40" y1="205.00" x2="582.28" y2="231.11" stroke="#808080" stroke-width="0.7" stroke-dasharray="3.6 1.4"/><circle cx="514.5" cy="204.0" r="72.8" fill="none" stroke="#8c8c8c" stroke-width="0.9"/></g>

<!-- slider -->
<text x="323.6" y="308.2" font-size="8.8" font-weight="bold" fill="#3c3c3c" textLength="21.8" lengthAdjust="spacingAndGlyphs">19:00</text>
<path d="M329,310.6 L339.8,310.6 L334.4,318.6 Z" fill="#3a3a3a"/>
<rect x="17" y="319.4" width="403.6" height="17.2" rx="3" fill="url(#bar)"/>
<rect x="17" y="319.4" width="403.6" height="17.2" rx="3" fill="url(#chk)"/>
<path d="M14.8,318.6 L14.8,348.4 L4.8,333.5 Z" fill="#b4b4b4"/>
<path d="M14.8,318.6 L14.8,348.4 L4.8,333.5 Z" fill="url(#chk)"/>
<line x1="14.8" y1="318.6" x2="14.8" y2="348.4" stroke="#555" stroke-width="0.8"/>
<line x1="4.3" y1="318.6" x2="4.3" y2="348.4" stroke="#8a8a8a" stroke-width="0.8"/>
<path d="M422.4,318.6 L422.4,348.4 L432.4,333.5 Z" fill="#b4b4b4"/>
<path d="M422.4,318.6 L422.4,348.4 L432.4,333.5 Z" fill="url(#chk)"/>
<line x1="422.4" y1="318.6" x2="422.4" y2="348.4" stroke="#555" stroke-width="0.8"/>
<line x1="432.8" y1="318.6" x2="432.8" y2="348.4" stroke="#8a8a8a" stroke-width="0.8"/>
<g font-size="8.8" font-weight="bold" fill="#646464"><text x="19.6" y="345.7" textLength="23.4" lengthAdjust="spacingAndGlyphs">00:00</text><text x="57.7" y="345.7" textLength="23.4" lengthAdjust="spacingAndGlyphs">03:00</text><text x="107.4" y="345.7" textLength="23.4" lengthAdjust="spacingAndGlyphs">06:00</text><text x="157.0" y="345.7" textLength="23.4" lengthAdjust="spacingAndGlyphs">09:00</text><text x="206.7" y="345.7" textLength="23.4" lengthAdjust="spacingAndGlyphs">12:00</text><text x="256.3" y="345.7" textLength="23.4" lengthAdjust="spacingAndGlyphs">15:00</text><text x="306.0" y="345.7" textLength="23.4" lengthAdjust="spacingAndGlyphs">18:00</text><text x="355.6" y="345.7" textLength="23.4" lengthAdjust="spacingAndGlyphs">21:00</text><text x="395" y="345.7" textLength="23.6" lengthAdjust="spacingAndGlyphs">23:45</text></g>

<!-- legend -->
<g id="legend"><text x="42.9" y="388.4" font-size="22.8" font-weight="bold" fill="#868686" textLength="48.8" lengthAdjust="spacingAndGlyphs">3099</text><text x="107.8" y="388.2" text-anchor="end" font-size="8.4" fill="#6e6e6e" stroke="#6e6e6e" stroke-width="0.2">MW</text><rect x="19.6" y="391.4" width="89.8" height="3.7" fill="#a2a2a2" stroke="#868686" stroke-width="0.8"/><text x="109.9" y="405.6" text-anchor="end" font-size="10" font-weight="bold" letter-spacing="0.2" fill="#909090">IMPORTS</text>
<text x="135.7" y="388.4" font-size="22.8" font-weight="bold" fill="#686868" textLength="48.8" lengthAdjust="spacingAndGlyphs">1590</text><text x="200.6" y="388.2" text-anchor="end" font-size="8.4" fill="#6e6e6e" stroke="#6e6e6e" stroke-width="0.2">MW</text><rect x="112.4" y="391.4" width="89.8" height="3.7" fill="#8c8c8c" stroke="#686868" stroke-width="0.8"/><text x="202.7" y="405.6" text-anchor="end" font-size="10" font-weight="bold" letter-spacing="0.2" fill="#7a7a7a">FIOUL</text>
<text x="228.1" y="388.4" font-size="22.8" font-weight="bold" fill="#7c7c7c" textLength="48.8" lengthAdjust="spacingAndGlyphs">2381</text><text x="293.0" y="388.2" text-anchor="end" font-size="8.4" fill="#6e6e6e" stroke="#6e6e6e" stroke-width="0.2">MW</text><rect x="204.8" y="391.4" width="89.8" height="3.7" fill="#9a9a9a" stroke="#7c7c7c" stroke-width="0.8"/><text x="295.1" y="405.6" text-anchor="end" font-size="10" font-weight="bold" letter-spacing="0.2" fill="#8c8c8c">CHARBON</text>
<text x="320.3" y="388.4" font-size="22.8" font-weight="bold" fill="#525252" textLength="48.8" lengthAdjust="spacingAndGlyphs">9421</text><text x="385.2" y="388.2" text-anchor="end" font-size="8.4" fill="#6e6e6e" stroke="#6e6e6e" stroke-width="0.2">MW</text><rect x="297.0" y="391.4" width="89.8" height="3.7" fill="#6a6a6a" stroke="#525252" stroke-width="0.8"/><text x="387.3" y="405.6" text-anchor="end" font-size="10" font-weight="bold" letter-spacing="0.2" fill="#606060">GAZ</text>
<text x="400.5" y="388.4" font-size="22.8" font-weight="bold" fill="#6a6a6a" textLength="61.0" lengthAdjust="spacingAndGlyphs">14069</text><text x="477.6" y="388.2" text-anchor="end" font-size="8.4" fill="#6e6e6e" stroke="#6e6e6e" stroke-width="0.2">MW</text><rect x="389.4" y="391.4" width="89.8" height="3.7" fill="#8a8a8a" stroke="#6a6a6a" stroke-width="0.8"/><text x="479.7" y="405.6" text-anchor="end" font-size="10" font-weight="bold" letter-spacing="0.2" fill="#7a7a7a">HYDRAULIQUE</text>
<text x="492.7" y="388.4" font-size="22.8" font-weight="bold" fill="#969696" textLength="61.0" lengthAdjust="spacingAndGlyphs">55144</text><text x="569.8" y="388.2" text-anchor="end" font-size="8.4" fill="#6e6e6e" stroke="#6e6e6e" stroke-width="0.2">MW</text><rect x="481.6" y="391.4" width="89.8" height="3.7" fill="#b4b4b4" stroke="#969696" stroke-width="0.8"/><text x="571.9" y="405.6" text-anchor="end" font-size="10" font-weight="bold" letter-spacing="0.2" fill="#9c9c9c">NUCLÉAIRE</text>
<text x="79.5" y="437.8" font-size="22.8" font-weight="bold" fill="#868686" textLength="12.2" lengthAdjust="spacingAndGlyphs">0</text><text x="107.8" y="437.6" text-anchor="end" font-size="8.4" fill="#6e6e6e" stroke="#6e6e6e" stroke-width="0.2">MW</text><rect x="19.6" y="440.0" width="89.8" height="3.7" fill="#9e9e9e" stroke="#868686" stroke-width="0.8"/><text x="109.9" y="454.8" text-anchor="end" font-size="10" font-weight="bold" letter-spacing="0.2" fill="#909090">SOLAIRE</text>
<text x="135.7" y="437.8" font-size="22.8" font-weight="bold" fill="#9e9e9e" textLength="48.8" lengthAdjust="spacingAndGlyphs">4508</text><text x="200.6" y="437.6" text-anchor="end" font-size="8.4" fill="#6e6e6e" stroke="#6e6e6e" stroke-width="0.2">MW</text><rect x="112.4" y="440.0" width="89.8" height="3.7" fill="#b4b4b4" stroke="#9e9e9e" stroke-width="0.8"/><text x="202.7" y="454.8" text-anchor="end" font-size="10" font-weight="bold" letter-spacing="0.2" fill="#a4a4a4">ÉOLIEN</text>
<text x="240.3" y="437.8" font-size="22.8" font-weight="bold" fill="#565656" textLength="36.6" lengthAdjust="spacingAndGlyphs">866</text><text x="293.0" y="437.6" text-anchor="end" font-size="8.4" fill="#6e6e6e" stroke="#6e6e6e" stroke-width="0.2">MW</text><rect x="204.8" y="440.0" width="89.8" height="3.7" fill="#5a5a5a" stroke="#565656" stroke-width="0.8"/><text x="295.1" y="454.8" text-anchor="end" font-size="10" font-weight="bold" letter-spacing="0.2" fill="#7a7a7a">BIOÉNERGIES</text>

<text x="449.3" y="437.8" font-size="22.8" font-weight="bold" fill="#424242" textLength="12.2" lengthAdjust="spacingAndGlyphs">1</text><text x="477.6" y="437.6" text-anchor="end" font-size="8.4" fill="#6e6e6e" stroke="#6e6e6e" stroke-width="0.2">MW</text><rect x="389.4" y="440.0" width="89.8" height="3.7" fill="#4c4c4c" stroke="#424242" stroke-width="0.8"/><text x="479.7" y="454.8" text-anchor="end" font-size="10" font-weight="bold" letter-spacing="0.2" fill="#6a6a6a">POMPAGE</text>
<text x="541.5" y="437.8" font-size="22.8" font-weight="bold" fill="#fff" stroke="#b4b4b4" stroke-width="0.8" textLength="12.2" lengthAdjust="spacingAndGlyphs">0</text><text x="569.8" y="437.6" text-anchor="end" font-size="8.4" fill="#bcbcbc">MW</text><rect x="481.6" y="440.0" width="89.8" height="3.7" fill="#f0f0f0" stroke="#b0b0b0" stroke-width="0.8"/><text x="571.9" y="454.5" text-anchor="end" font-size="9.8" font-weight="bold" letter-spacing="0.3" fill="#fff" stroke="#aeaeae" stroke-width="0.7">EXPORTS</text></g>

<!-- footer actions -->
<g id="ico-gear" transform="translate(426.4,475.9)" fill="#8c8c8c">
<circle r="3.5" fill="none" stroke="#8c8c8c" stroke-width="1.6"/>
<rect x="-0.9" y="-6.4" width="1.8" height="2.4" transform="rotate(0)"/><rect x="-0.9" y="-6.4" width="1.8" height="2.4" transform="rotate(45)"/><rect x="-0.9" y="-6.4" width="1.8" height="2.4" transform="rotate(90)"/><rect x="-0.9" y="-6.4" width="1.8" height="2.4" transform="rotate(135)"/><rect x="-0.9" y="-6.4" width="1.8" height="2.4" transform="rotate(180)"/><rect x="-0.9" y="-6.4" width="1.8" height="2.4" transform="rotate(225)"/><rect x="-0.9" y="-6.4" width="1.8" height="2.4" transform="rotate(270)"/><rect x="-0.9" y="-6.4" width="1.8" height="2.4" transform="rotate(315)"/>
</g>
<text x="439.2" y="479.4" font-size="10.3" fill="#666" textLength="46" lengthAdjust="spacingAndGlyphs">configurer</text>
<g id="ico-refresh" fill="none" stroke="#929292" stroke-width="1.6">
<path d="M508.64,473.49 A4.5,4.5 0 1 0 509.12,478.88"/>
<path d="M510.9,469.2 L510.9,474.7 L506.4,474.7" stroke-width="1.5"/>
</g>
<text x="518" y="479.4" font-size="10.3" fill="#666" textLength="49.2" lengthAdjust="spacingAndGlyphs">réinitialiser</text>
</svg>
</body>
</html>
